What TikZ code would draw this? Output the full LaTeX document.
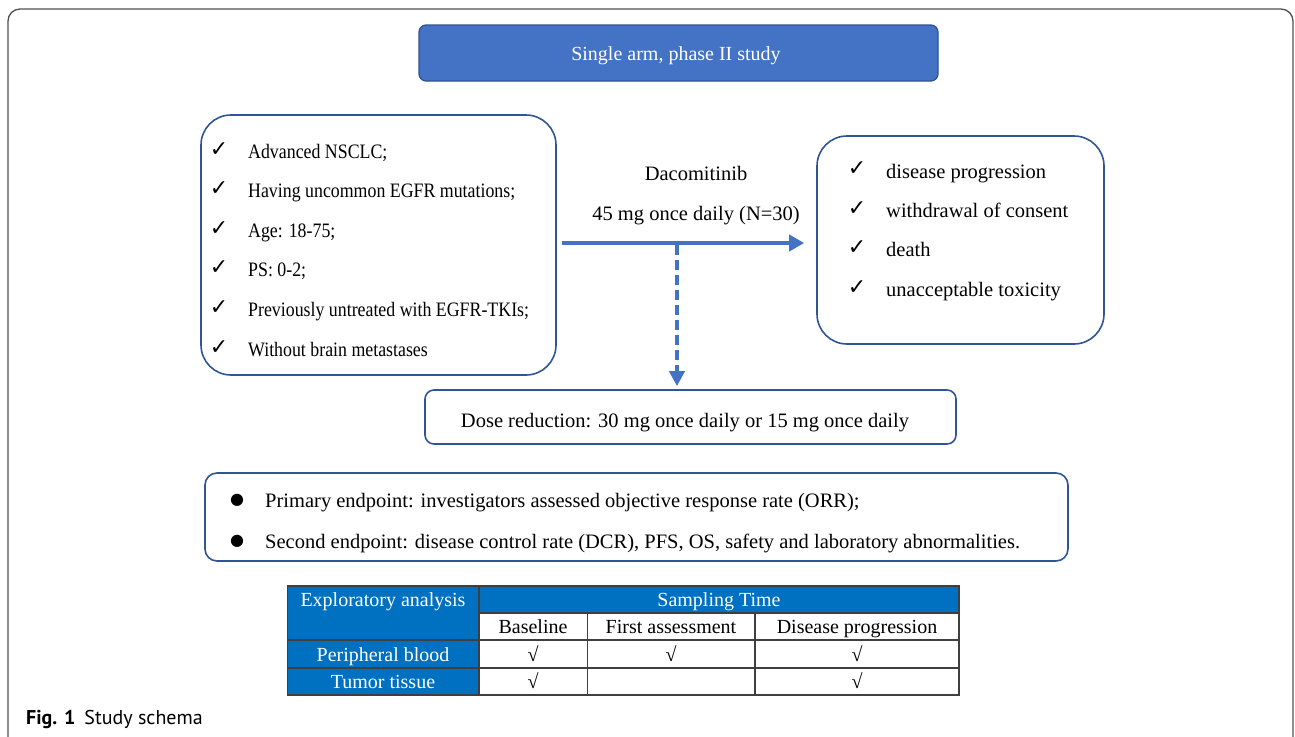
\documentclass[tikz,border=0pt]{standalone}
\usepackage{fontspec}
\setmainfont{Liberation Serif}
\newfontfamily\narrowfont[FakeStretch=0.87]{Liberation Serif}
\newfontfamily\symfont{DejaVu Sans}
\newfontfamily\capfont{PT Sans}
\usetikzlibrary{arrows.meta}
\definecolor{boxblue}{HTML}{2F5597}
\definecolor{titlefill}{HTML}{4472C4}
\definecolor{titleedge}{HTML}{2F528F}
\definecolor{arrowblue}{HTML}{4472C4}
\definecolor{tblue}{HTML}{0070C0}
\definecolor{gridgray}{HTML}{3F3F3F}
\definecolor{framegray}{HTML}{505050}
\tikzset{
  txt/.style={font=\fontsize{20.5}{24}\selectfont, inner sep=0pt, text=black},
  ntxt/.style={font=\narrowfont\fontsize{20.5}{24}\selectfont, inner sep=0pt, text=black},
  ttxt/.style={font=\fontsize{20}{24}\selectfont, inner sep=0pt},
  chk/.style={font=\symfont\fontsize{22}{22}\selectfont, inner sep=0pt},
  bul/.style={font=\symfont\fontsize{16}{16}\selectfont, inner sep=0pt},
  listbox/.style={draw=boxblue, line width=1.6pt, rounded corners=30pt, inner sep=0pt},
  smallbox/.style={draw=boxblue, line width=1.6pt, rounded corners=9pt, inner sep=0pt},
  titlebox/.style={draw=titleedge, fill=titlefill, line width=1.2pt, rounded corners=7pt, inner sep=0pt},
  mainarrow/.style={draw=arrowblue, line width=4.5pt, -{Triangle[length=15pt,width=16pt]}},
  dasharrow/.style={draw=arrowblue, line width=4.5pt, dash pattern=on 10pt off 5pt, -{Triangle[length=15pt,width=15pt]}},
  gridline/.style={draw=gridgray, line width=1.3pt},
  framestyle/.style={draw=framegray, line width=1.3pt, rounded corners=12pt},
}
\begin{document}
\begin{tikzpicture}[x=1pt,y=-1pt]
\useasboundingbox (0,0) rectangle (1295,736);
% outer frame (bottom cut off)
\draw[framestyle] (8,760) -- (8,9) -- (1293,9) -- (1293,760);

% title
\node[titlebox, minimum width=519pt, minimum height=56pt] (title) at (678.5,53) {};
\node[ttxt, text=white, anchor=base] (titletext) at (676,60) {Single arm, phase II study};

% inclusion box
\node[listbox, minimum width=355pt, minimum height=260pt] (incl) at (378.5,245) {};
\node[chk] (c1) at (219,150) {✓};
\node[chk] (c2) at (219,189) {✓};
\node[chk] (c3) at (219,229) {✓};
\node[chk] (c4) at (219,268) {✓};
\node[chk] (c5) at (219,308) {✓};
\node[chk] (c6) at (219,348) {✓};
\node[ntxt, anchor=base west] (i1) at (248,158) {Advanced NSCLC;};
\node[ntxt, anchor=base west] (i2) at (248,197) {Having uncommon EGFR mutations;};
\node[ntxt, anchor=base west] (i3) at (248,237) {Age: 18-75;};
\node[ntxt, anchor=base west] (i4) at (248,276) {PS: 0-2;};
\node[ntxt, anchor=base west] (i5) at (248,316) {Previously untreated with EGFR-TKIs;};
\node[ntxt, anchor=base west] (i6) at (248,356) {Without brain metastases};

% stop box
\node[listbox, minimum width=287pt, minimum height=208pt] (stop) at (960.5,240) {};
\node[chk] (s1c) at (857,169) {✓};
\node[chk] (s2c) at (857,209) {✓};
\node[chk] (s3c) at (857,248) {✓};
\node[chk] (s4c) at (857,288) {✓};
\node[txt, anchor=base west] (s1) at (886,178) {disease progression};
\node[txt, anchor=base west] (s2) at (886,217) {withdrawal of consent};
\node[txt, anchor=base west] (s3) at (886,256) {death};
\node[txt, anchor=base west] (s4) at (886,296) {unacceptable toxicity};

% drug labels
\node[txt, anchor=base] (drug) at (696,180) {Dacomitinib};
\node[txt, anchor=base] (drugdose) at (696,220) {45 mg once daily (N=30)};

% dose reduction box
\node[smallbox, minimum width=531pt, minimum height=54pt] (dose) at (690.5,417) {};
\node[txt, anchor=base] (dosetext) at (685,427) {Dose reduction: 30 mg once daily or 15 mg once daily};

% arrows
\coordinate (as) at ([xshift=5pt,yshift=2pt]incl.east);
\coordinate (ae) at ([xshift=-12pt]stop.west);
\draw[mainarrow] (as) -- (as -| ae);
\coordinate (br) at (677,245);
\draw[dasharrow, shorten >=3pt] (br) -- (br |- dose.north);

% endpoints box
\node[smallbox, rounded corners=12pt, minimum width=863pt, minimum height=88pt] (endp) at (636.5,517) {};
\node[bul] (b1) at (237,500) {●};
\node[bul] (b2) at (237,541) {●};
\node[txt, anchor=base west] (e1) at (265,507) {Primary endpoint: investigators assessed objective response rate (ORR);};
\node[txt, anchor=base west] (e2) at (265,548) {Second endpoint: disease control rate (DCR), PFS, OS, safety and laboratory abnormalities.};

% table
\fill[tblue] (287.5,586) rectangle (959,613);
\fill[tblue] (287.5,613) rectangle (479,695);
\draw[gridline] (287.5,586) rectangle (959,695);
\draw[gridline] (479,586) -- (479,695);
\draw[gridline] (479,613) -- (959,613);
\draw[gridline] (287.5,640) -- (959,640);
\draw[gridline] (287.5,668) -- (959,668);
\draw[gridline] (587.5,613) -- (587.5,695);
\draw[gridline] (755,613) -- (755,695);
\node[ttxt, text=white, anchor=base] (th1) at (383,606) {Exploratory analysis};
\node[ttxt, text=white, anchor=base] (th2) at (719,606) {Sampling Time};
\node[ttxt, anchor=base] (th3) at (533,633) {Baseline};
\node[ttxt, anchor=base] (th4) at (671,633) {First assessment};
\node[ttxt, anchor=base] (th5) at (857,633) {Disease progression};
\node[ttxt, text=white, anchor=base] (r1) at (383,661) {Peripheral blood};
\node[ttxt, anchor=base] (r1a) at (533,661) {√};
\node[ttxt, anchor=base] (r1b) at (671,661) {√};
\node[ttxt, anchor=base] (r1c) at (857,661) {√};
\node[ttxt, text=white, anchor=base] (r2) at (383,688) {Tumor tissue};
\node[ttxt, anchor=base] (r2a) at (533,688) {√};
\node[ttxt, anchor=base] (r2c) at (857,688) {√};

% caption
\node[anchor=base west, inner sep=0pt, font=\capfont\fontsize{20}{22}\selectfont] (cap) at (26,724) {\textbf{Fig. 1}\hspace{9pt}Study schema};
\end{tikzpicture}
\end{document}
